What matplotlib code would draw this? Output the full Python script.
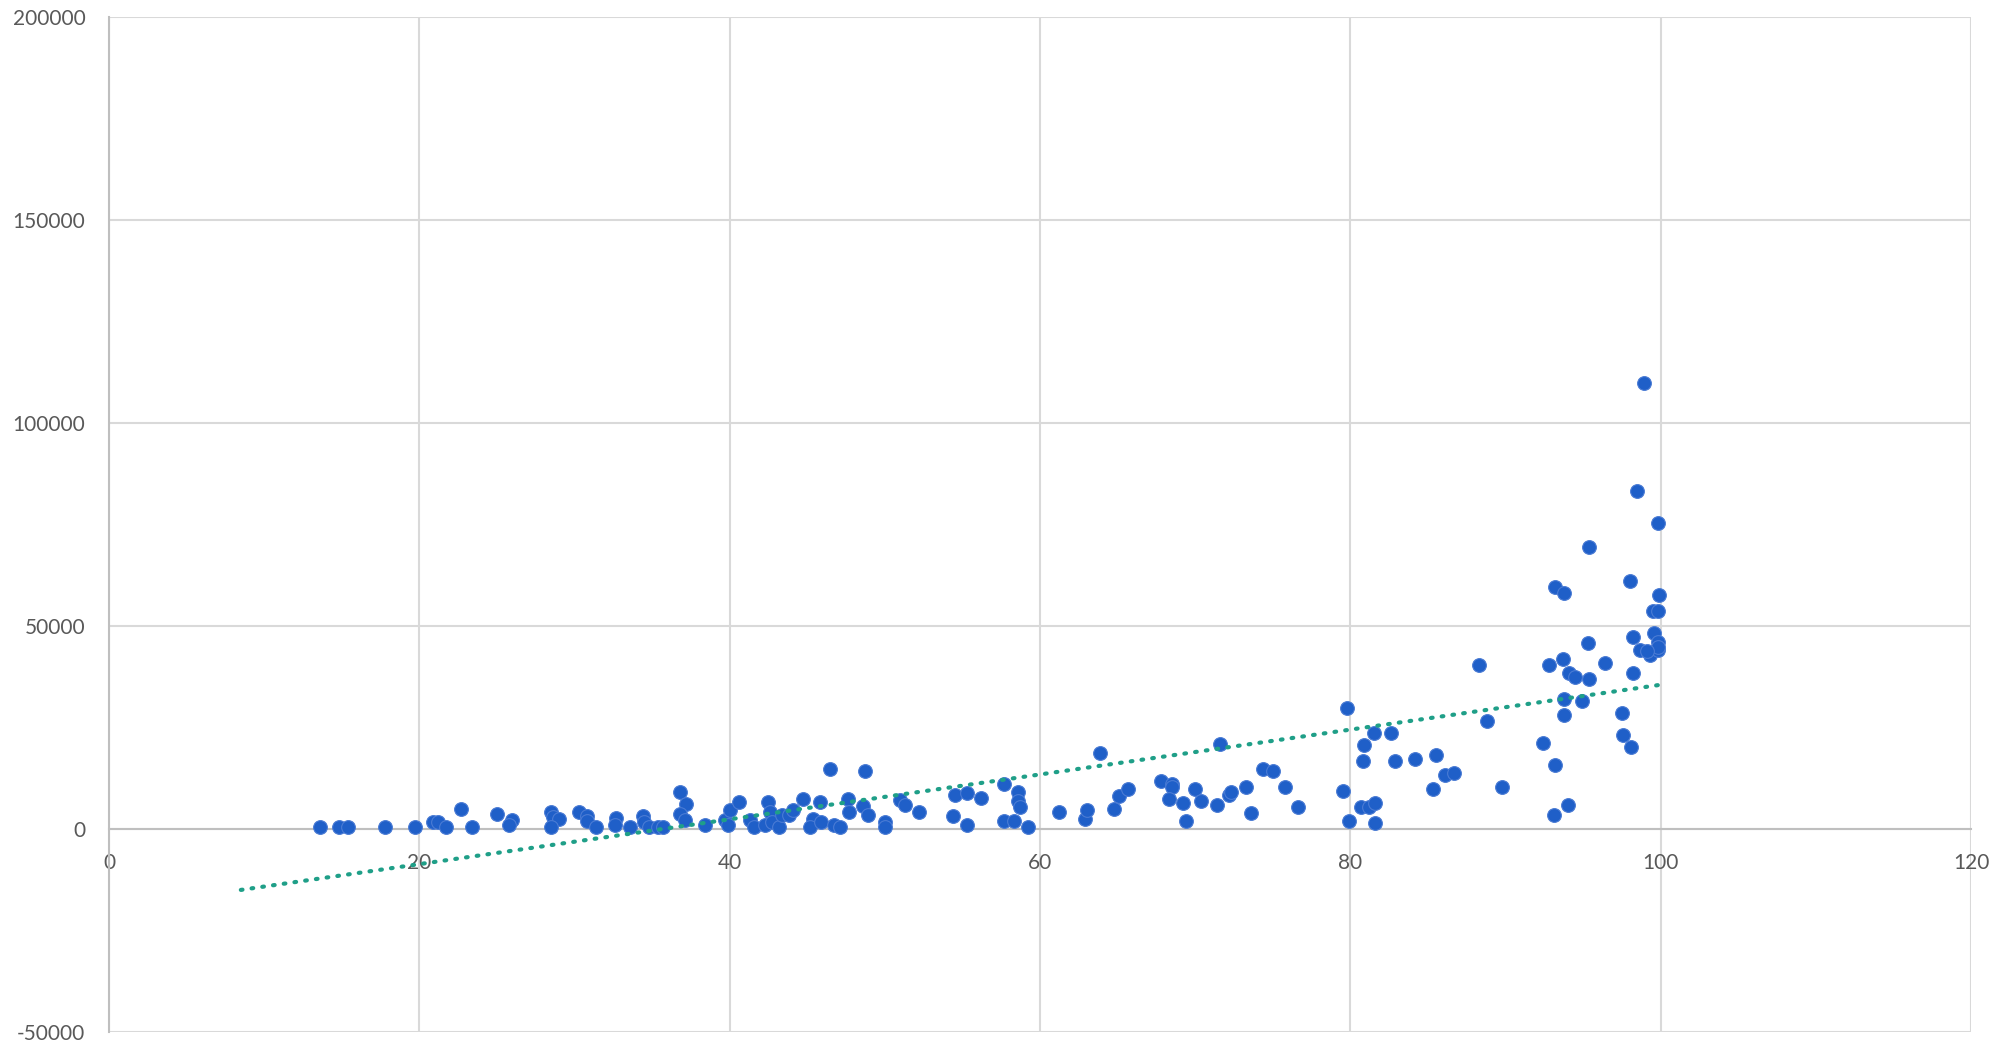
import numpy as np
import matplotlib
matplotlib.use('Agg')
import matplotlib.pyplot as plt

# scatter points (x = percent, y = value)
x_vals = [13.6, 14.8, 15.4, 17.8, 19.7, 20.9, 21.2, 21.7, 22.7, 23.4,
          25.0, 26.0, 25.8, 28.5, 28.6, 29.0, 28.5, 30.3, 30.8, 30.8,
          31.4, 32.7, 32.6, 33.6, 34.4, 34.5, 34.8, 35.4, 35.7, 36.8,
          37.2, 36.8, 37.1, 38.4, 39.7, 40.0, 39.9, 40.6, 41.3, 41.6,
          42.3, 42.5, 42.6, 42.7, 43.2, 43.4, 43.8, 44.1, 44.7, 45.4,
          45.2, 45.9, 45.8, 46.5, 46.7, 47.1, 47.6, 47.7, 48.6, 48.9,
          48.7, 50.0, 50.0, 51.0, 51.3, 52.2, 54.4, 54.5, 55.3, 55.3,
          56.2, 57.7, 57.7, 58.3, 58.6, 58.6, 58.7, 59.2, 61.2, 62.9,
          63.0, 63.9, 64.8, 65.1, 65.7, 67.8, 68.5, 68.5, 68.3, 69.2,
          69.4, 70.0, 70.4, 71.4, 71.6, 72.2, 72.3, 73.3, 73.6, 74.4,
          75.0, 75.8, 76.6, 79.5, 79.9, 79.8, 80.7, 81.2, 81.6, 81.6,
          81.5, 82.6, 80.9, 80.8, 82.9, 84.2, 85.5, 85.3, 86.1, 86.7,
          88.3, 88.8, 89.8, 92.4, 92.8, 93.7, 94.1, 94.5, 95.4, 96.4,
          98.2, 93.8, 94.9, 93.8, 93.2, 93.1, 94.0, 97.5, 97.6, 98.1,
          98.7, 99.3, 99.8, 98.9, 98.5, 99.8, 95.4, 98.0, 93.2, 93.8,
          99.9, 99.5, 99.8, 99.6, 98.2, 95.3, 99.8, 99.8, 99.1]
y_vals = [500, 500, 500, 500, 500, 1650, 1650, 500, 5000, 500,
          3600, 2200, 1000, 4200, 3000, 2500, 500, 4200, 3100, 2000,
          500, 2800, 1000, 500, 3200, 1650, 500, 500, 600, 9000,
          6100, 3700, 2200, 1060, 2200, 4600, 1060, 6570, 2200, 570,
          1060, 6570, 4190, 1650, 570, 3530, 3530, 4600, 7470, 2540,
          570, 1650, 6570, 14850, 1060, 570, 7470, 4190, 5660, 3530,
          14360, 1650, 570, 7140, 5910, 4190, 3120, 8450, 8940, 1060,
          7550, 11000, 2050, 2050, 9030, 6970, 5490, 570, 4190, 2460,
          4680, 18800, 5000, 8050, 9930, 11900, 11000, 10400, 7390, 6480,
          2050, 9930, 6970, 5990, 20860, 8450, 9110, 10400, 4020, 14850,
          14360, 10400, 5490, 9430, 2050, 29700, 5490, 5400, 6480, 1560,
          23720, 23720, 20760, 16820, 16820, 17320, 18300, 9930, 13380, 13870,
          40470, 26670, 10420, 21260, 40470, 41950, 38500, 37510, 37020, 40960,
          38500, 32090, 31600, 28150, 15840, 3520, 5990, 28640, 23230, 20270,
          44090, 42860, 44090, 109930, 83330, 75440, 69460, 61160, 59680, 58200,
          57710, 53770, 53770, 48350, 47360, 45890, 46130, 44900, 43920]

x_ticks = [0, 20, 40, 60, 80, 100, 120]
y_ticks = [-50000, 0, 50000, 100000, 150000, 200000]
trend_start = 8.5

plt.rcParams['font.family'] = ['Lato', 'DejaVu Sans']

fig = plt.figure(figsize=(20.1, 10.49), dpi=100)
ax = fig.add_axes([0.0542, 0.0162, 0.9264, 0.9676])

x = np.array(x_vals)
y = np.array(y_vals)

ax.scatter(x, y, s=98, color='#1f5fc8', edgecolors='#4a7bd4', linewidths=0.8, zorder=3)

# linear trendline
slope, intercept = np.polyfit(x, y, 1)
tx = np.array([trend_start, x.max()])
ax.plot(tx, slope * tx + intercept, color='#1f9f88', linewidth=3,
        linestyle=(0, (0.4, 2.2)), dash_capstyle='round', zorder=4)

ax.set_xlim(0, 120)
ax.set_ylim(-50000, 200000)
ax.set_xticks(x_ticks)
ax.set_xticklabels([str(t) for t in x_ticks])
ax.set_yticks(y_ticks)
ax.set_yticklabels([str(t) for t in y_ticks])

ax.grid(True, color='#d9d9d9', linewidth=1.5, zorder=0)
ax.set_axisbelow(True)

for side in ['top', 'right']:
    ax.spines[side].set_visible(False)
ax.spines['left'].set_color('#bfbfbf')
ax.spines['left'].set_linewidth(1.5)
ax.spines['bottom'].set_position(('data', 0))
ax.spines['bottom'].set_color('#bfbfbf')
ax.spines['bottom'].set_linewidth(1.5)

ax.tick_params(axis='both', length=0, labelsize=15, labelcolor='#595959')
ax.tick_params(axis='y', pad=17)
ax.tick_params(axis='x', pad=17)

fig.savefig('out.png', dpi=100)
